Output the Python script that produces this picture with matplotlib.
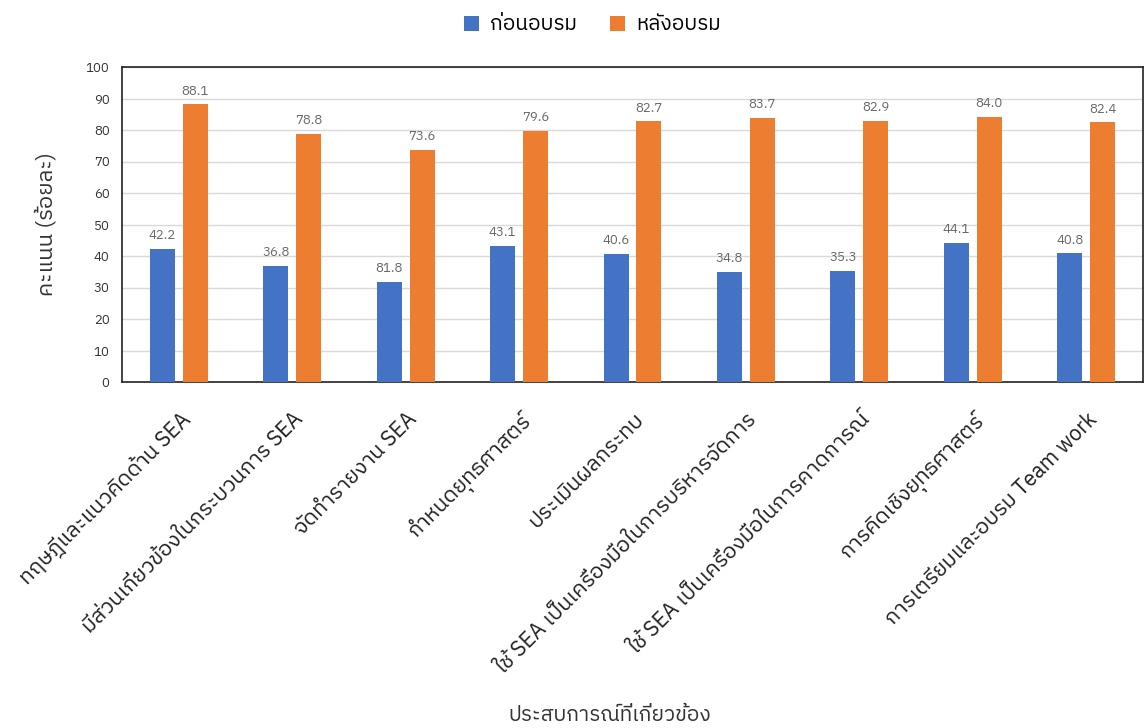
import matplotlib
matplotlib.use('Agg')
import matplotlib.pyplot as plt
from matplotlib import font_manager
from matplotlib.ft2font import FT2Font
import numpy as np


def find_thai_font():
    # look for an installed family that actually has Thai glyphs
    found = []
    for f in font_manager.fontManager.ttflist:
        try:
            cmap = FT2Font(f.fname).get_charmap()
        except Exception:
            continue
        if 0x0E01 in cmap and 0x0E49 in cmap:
            found.append(f.name)
    if not found:
        return None
    for name in found:
        if 'Thai' in name and 'Looped' not in name:
            return name
    return found[0]


categories = [
    'ทฤษฎีและแนวคิดด้าน SEA',
    'มีส่วนเกี่ยวข้องในกระบวนการ SEA',
    'จัดทำรายงาน SEA',
    'กำหนดยุทธศาสตร์',
    'ประเมินผลกระทบ',
    'ใช้ SEA เป็นเครื่องมือในการบริหารจัดการ',
    'ใช้ SEA เป็นเครื่องมือในการคาดการณ์',
    'การคิดเชิงยุทธศาสตร์',
    'การเตรียมและอบรม Team work',
]
before = [42.2, 36.8, 31.8, 43.1, 40.6, 34.8, 35.3, 44.1, 40.8]
after = [88.1, 78.8, 73.6, 79.6, 82.7, 83.7, 82.9, 84.0, 82.4]
# labels as printed in the source picture
before_labels = ['42.2', '36.8', '81.8', '43.1', '40.6', '34.8', '35.3', '44.1', '40.8']
after_labels = ['88.1', '78.8', '73.6', '79.6', '82.7', '83.7', '82.9', '84.0', '82.4']
series_names = ['ก่อนอบรม', 'หลังอบรม']
y_ticks = list(range(0, 101, 10))

thai_font = find_thai_font()
families = [thai_font, 'DejaVu Sans'] if thai_font else ['DejaVu Sans']
plt.rcParams['font.family'] = families

BLUE = '#4472C4'
ORANGE = '#ED7D31'

fig = plt.figure(figsize=(11.47, 7.28), dpi=100)
ax = fig.add_axes([122 / 1147, 1 - 382 / 728, (1143 - 122) / 1147, (382 - 67) / 728])

x = np.arange(len(categories))
width = 0.22
off = 0.145
b1 = ax.bar(x - off, before, width, color=BLUE, label=series_names[0], zorder=3)
b2 = ax.bar(x + off, after, width, color=ORANGE, label=series_names[1], zorder=3)

for rect, txt in zip(b1, before_labels):
    ax.text(rect.get_x() + rect.get_width() / 2, rect.get_height() + 2.2, txt,
            ha='center', va='bottom', fontsize=9.5, color='#666666')
for rect, txt in zip(b2, after_labels):
    ax.text(rect.get_x() + rect.get_width() / 2, rect.get_height() + 2.2, txt,
            ha='center', va='bottom', fontsize=9.5, color='#666666')

ax.set_xlim(-0.5, len(categories) - 0.5)
ax.set_ylim(0, 100)
ax.set_yticks(y_ticks)
ax.tick_params(axis='y', labelsize=9.5, length=0, pad=9, colors='#333333')
ax.set_xticks(x)
ax.set_xticklabels(categories, rotation=45, ha='right', rotation_mode='anchor',
                   fontsize=15.5, color='#222222')
ax.tick_params(axis='x', length=0, pad=19)
ax.grid(axis='y', color='#D9D9D9', linewidth=1, zorder=0)

for side in ['top', 'right', 'left', 'bottom']:
    ax.spines[side].set_color('#222222')
    ax.spines[side].set_linewidth(1.2)

ax.set_ylabel('คะแนน (ร้อยละ)', fontsize=16, color='#333333', labelpad=20)
fig.text(0.532, 0.004, 'ประสบการณ์ที่เกี่ยวข้อง', ha='center', va='bottom',
         fontsize=15, color='#333333')

fig.legend(handles=[b1, b2], labels=series_names, loc='center', ncol=2,
           bbox_to_anchor=(592 / 1147, 1 - 25 / 728), frameon=False,
           fontsize=15, handlelength=0.75, handleheight=0.75, columnspacing=1.6,
           handletextpad=0.5)

fig.savefig('out.png', dpi=100)
